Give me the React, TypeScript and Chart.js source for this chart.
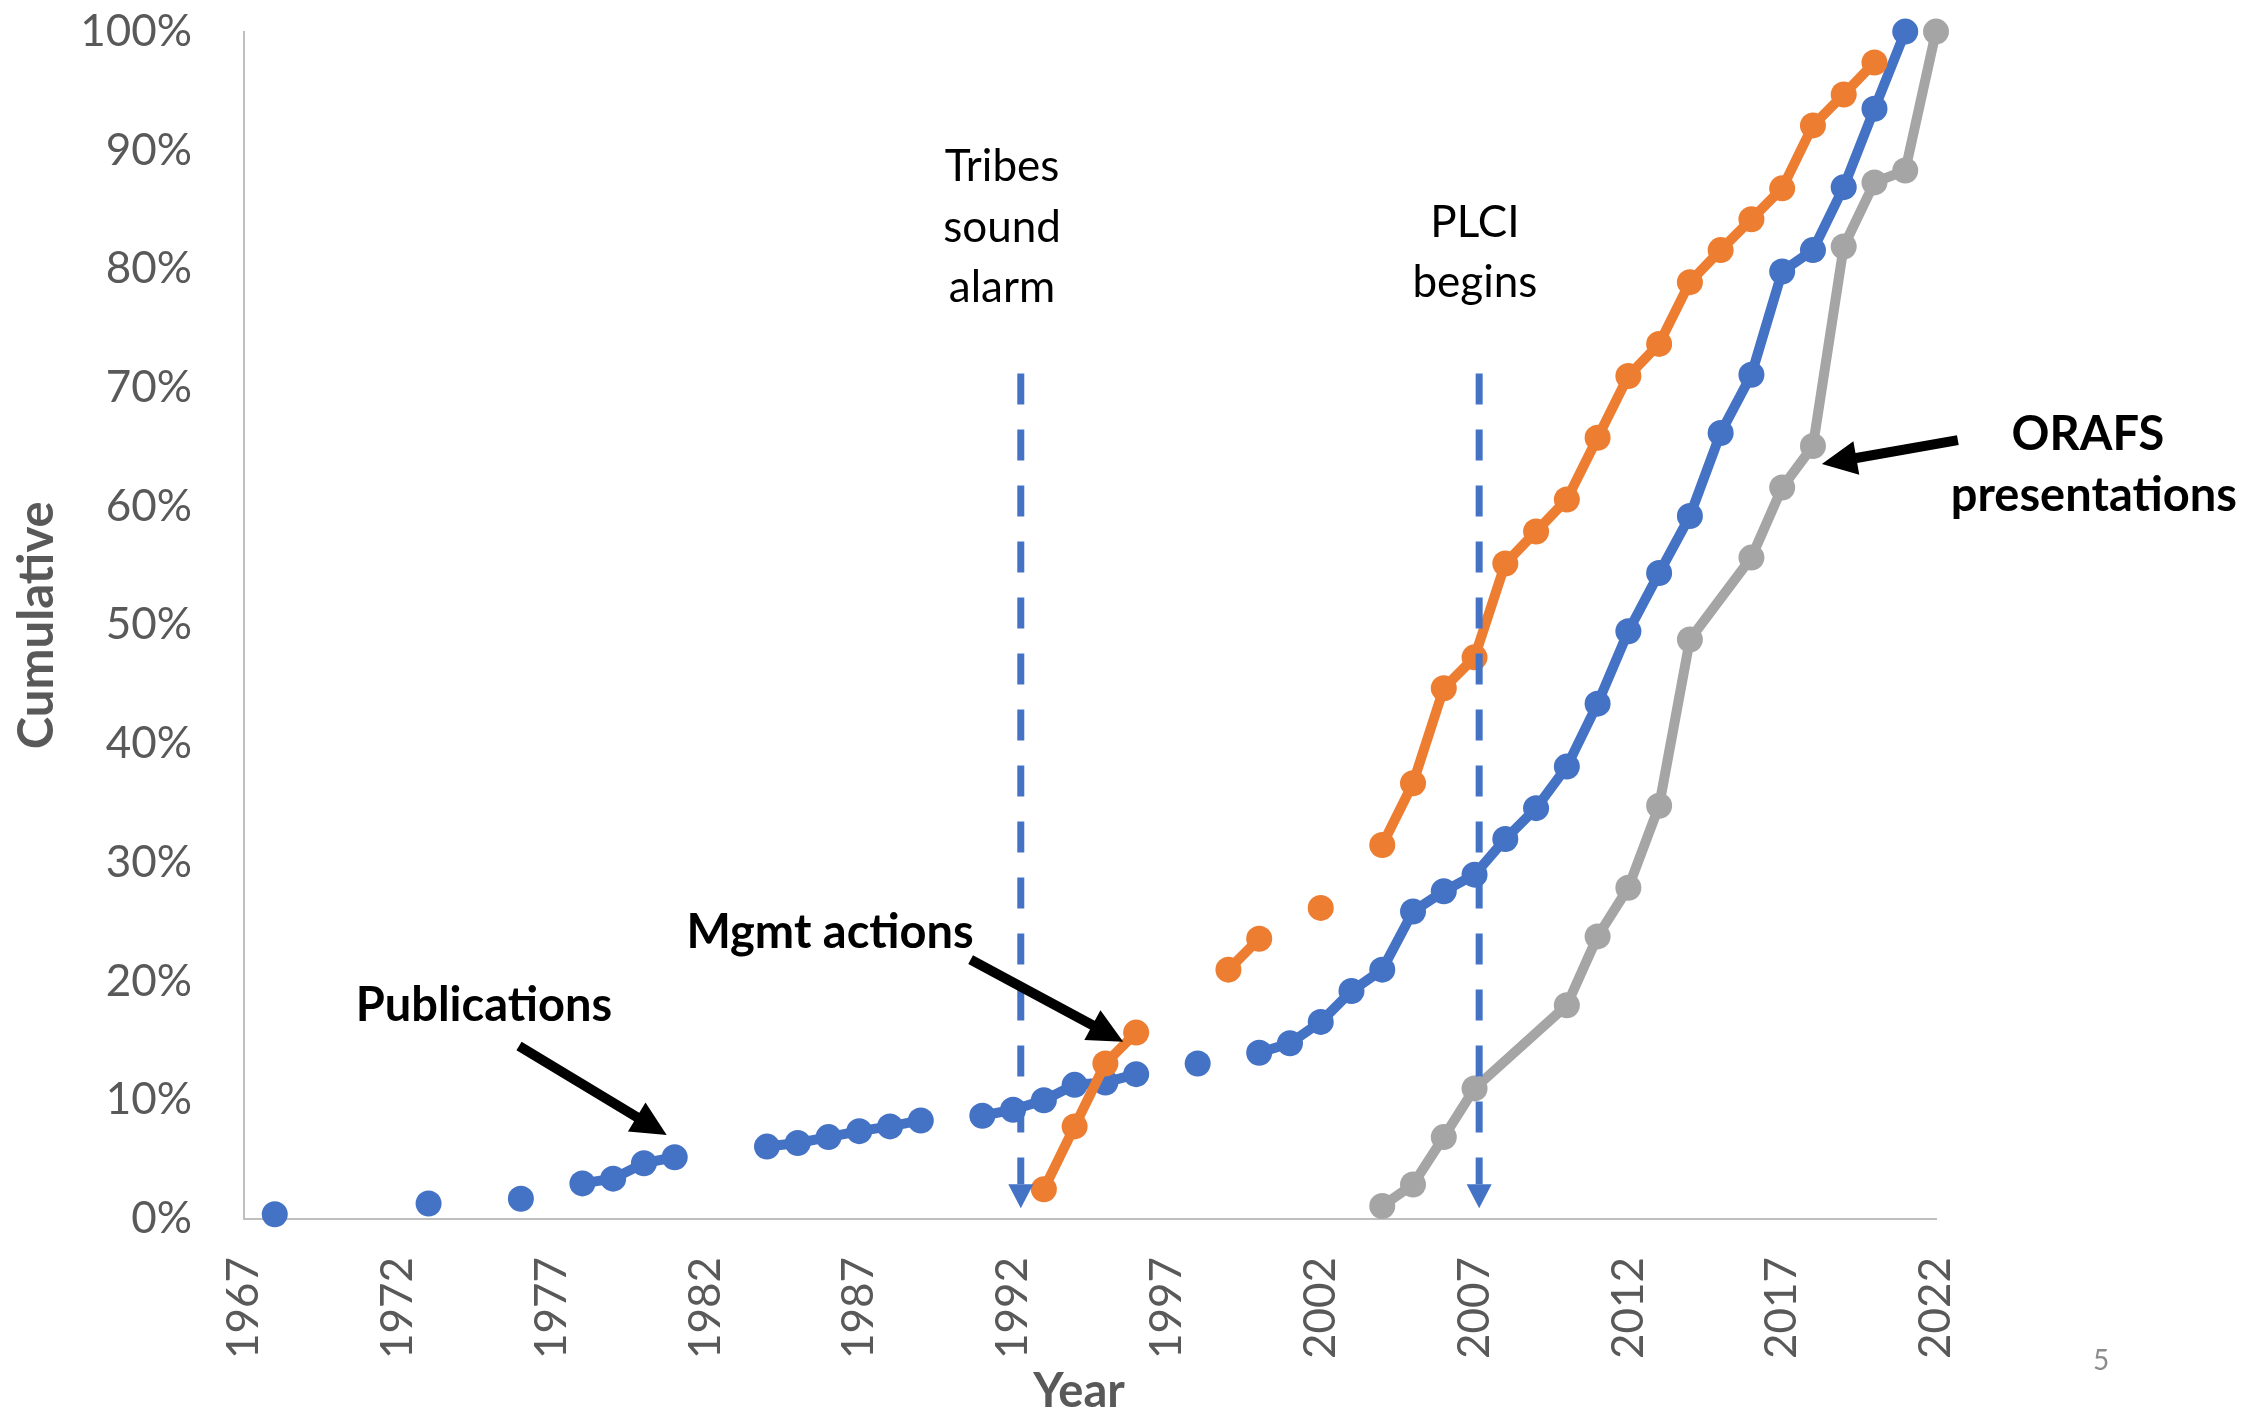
import React, { useEffect, useRef } from 'react';
import { Chart, registerables } from 'chart.js';

Chart.register(...registerables);

// ---------- data ----------
const years = [
  1967, 1968, 1969, 1970, 1971, 1972, 1973, 1974, 1975, 1976,
  1977, 1978, 1979, 1980, 1981, 1982, 1983, 1984, 1985, 1986,
  1987, 1988, 1989, 1990, 1991, 1992, 1993, 1994, 1995, 1996,
  1997, 1998, 1999, 2000, 2001, 2002, 2003, 2004, 2005, 2006,
  2007, 2008, 2009, 2010, 2011, 2012, 2013, 2014, 2015, 2016,
  2017, 2018, 2019, 2020, 2021, 2022,
];

// cumulative %, null = no value that year
const publications = [
  null, 0.4, null, null, null, null, 1.3, null, null, 1.7,
  null, 3.0, 3.4, 4.7, 5.2, null, null, 6.1, 6.4, 6.9,
  7.4, 7.8, 8.3, null, 8.7, 9.2, 10.0, 11.3, 11.5, 12.2,
  null, 13.1, null, 14.0, 14.8, 16.6, 19.2, 21.0, 25.9, 27.6,
  29.0, 32.0, 34.6, 38.1, 43.4, 49.5, 54.4, 59.2, 66.2, 71.1,
  79.8, 81.6, 86.9, 93.5, 100, null,
];

const mgmtActions = [
  null, null, null, null, null, null, null, null, null, null,
  null, null, null, null, null, null, null, null, null, null,
  null, null, null, null, null, null, 2.5, 7.8, 13.1, 15.7,
  null, null, 21.0, 23.6, null, 26.2, null, 31.5, 36.7, 44.7,
  47.3, 55.2, 57.9, 60.6, 65.8, 71.0, 73.7, 78.9, 81.6, 84.2,
  86.8, 92.1, 94.7, 97.4, null, null,
];

const orafsPresentations = [
  null, null, null, null, null, null, null, null, null, null,
  null, null, null, null, null, null, null, null, null, null,
  null, null, null, null, null, null, null, null, null, null,
  null, null, null, null, null, null, null, 1.1, 2.9, 6.9,
  11.0, null, null, 18.0, 23.8, 27.9, 34.8, 48.8, null, 55.7,
  61.6, 65.1, 81.9, 87.3, 88.3, 100,
];

const xTickYears = [1967, 1972, 1977, 1982, 1987, 1992, 1997, 2002, 2007, 2012, 2017, 2022];
const yTickValues = [0, 10, 20, 30, 40, 50, 60, 70, 80, 90, 100];

// event markers (dashed arrows) and their labels, in data units
const eventYears = [1992.25, 2007.15];
const eventLabels = [
  ['Tribes', 'sound', 'alarm'],
  ['PLCI', 'begins'],
];
const eventLabelYears = [1991.64, 2007.01];
const eventLabelBaselines = [
  [87.42, 82.32, 77.23],
  [82.7, 77.65],
];
const eventLineTop = 71.2;
const eventLineTip = 0.9;

// series callouts with black arrows, in data units
const calloutTexts = [['Publications'], ['Mgmt actions'], ['ORAFS', 'presentations']];
const calloutYears = [[1974.8], [1986.05], [2026.94, 2027.13]];
const calloutBaselines = [[16.7], [22.82], [64.76, 59.63]];
const calloutFrom = [[1975.94, 14.57], [1990.62, 21.84], [2022.71, 65.6]];
const calloutTo = [[1980.74, 7.07], [1995.58, 14.93], [2018.29, 63.58]];

// ---------- styles ----------
const BLUE = '#4472C4';
const ORANGE = '#ED7D31';
const GRAY = '#A5A5A5';
const AXIS_TEXT = '#595959';
const FONT = 'Lato';
const W = 2254;
const H = 1411;

function blockArrow(ctx: CanvasRenderingContext2D, x0: number, y0: number, x1: number, y1: number,
  shaftW: number, headLen: number, headW: number) {
  const dx = x1 - x0;
  const dy = y1 - y0;
  const len = Math.hypot(dx, dy);
  const ux = dx / len;
  const uy = dy / len;
  const nx = -uy;
  const ny = ux;
  const bx = x1 - ux * headLen;
  const by = y1 - uy * headLen;
  ctx.beginPath();
  ctx.moveTo(x0 + nx * shaftW / 2, y0 + ny * shaftW / 2);
  ctx.lineTo(bx + nx * shaftW / 2, by + ny * shaftW / 2);
  ctx.lineTo(bx + nx * headW / 2, by + ny * headW / 2);
  ctx.lineTo(x1, y1);
  ctx.lineTo(bx - nx * headW / 2, by - ny * headW / 2);
  ctx.lineTo(bx - nx * shaftW / 2, by - ny * shaftW / 2);
  ctx.lineTo(x0 - nx * shaftW / 2, y0 - ny * shaftW / 2);
  ctx.closePath();
  ctx.fill();
}

const annotationPlugin = {
  id: 'annotations',
  afterDatasetsDraw(chart: any) {
    const { ctx, scales, chartArea } = chart;
    const xs = scales.x;
    const ys = scales.y;
    const px = (v: number) => xs.getPixelForValue(v);
    const py = (v: number) => ys.getPixelForValue(v);
    ctx.save();

    // dashed event arrows
    eventYears.forEach((yr) => {
      const X = px(yr);
      const top = py(eventLineTop);
      const tip = py(eventLineTip);
      const headLen = 24;
      const headW = 25;
      ctx.strokeStyle = BLUE;
      ctx.lineWidth = 7;
      ctx.lineCap = 'butt';
      ctx.setLineDash([31, 25]);
      ctx.beginPath();
      ctx.moveTo(X, top);
      ctx.lineTo(X, tip - headLen);
      ctx.stroke();
      ctx.setLineDash([]);
      ctx.fillStyle = BLUE;
      ctx.beginPath();
      ctx.moveTo(X - headW / 2, tip - headLen);
      ctx.lineTo(X + headW / 2, tip - headLen);
      ctx.lineTo(X, tip);
      ctx.closePath();
      ctx.fill();
    });

    // event labels
    ctx.fillStyle = '#000000';
    ctx.textAlign = 'center';
    ctx.textBaseline = 'alphabetic';
    ctx.font = `44px ${FONT}`;
    eventLabels.forEach((lines, i) => {
      lines.forEach((t, j) => {
        ctx.fillText(t, px(eventLabelYears[i]), py(eventLabelBaselines[i][j]));
      });
    });

    // callouts
    ctx.font = `bold 47px ${FONT}`;
    calloutTexts.forEach((lines, i) => {
      lines.forEach((t, j) => {
        ctx.fillText(t, px(calloutYears[i][j]), py(calloutBaselines[i][j]));
      });
      blockArrow(ctx, px(calloutFrom[i][0]), py(calloutFrom[i][1]),
        px(calloutTo[i][0]), py(calloutTo[i][1]), 10, 35, 34);
    });

    // axis titles
    ctx.fillStyle = AXIS_TEXT;
    ctx.font = `bold 47px ${FONT}`;
    ctx.textAlign = 'center';
    ctx.textBaseline = 'alphabetic';
    ctx.fillText('Year', 1079, 1407);
    ctx.save();
    ctx.font = `bold 49px ${FONT}`;
    ctx.translate(53, (chartArea.top + chartArea.bottom) / 2);
    ctx.rotate(-Math.PI / 2);
    ctx.fillText('Cumulative', 0, 0);
    ctx.restore();

    // slide number
    ctx.fillStyle = '#8C8C8C';
    ctx.font = `28px ${FONT}`;
    ctx.textBaseline = 'middle';
    ctx.fillText('5', 2101, 1361);

    ctx.restore();
  },
};

function makeData(values: (number | null)[]) {
  return years.map((x, i) => ({ x, y: values[i] }));
}

export default function App() {
  const canvasRef = useRef<HTMLCanvasElement | null>(null);

  useEffect(() => {
    const canvas = canvasRef.current;
    if (!canvas) return;
    const common = {
      borderWidth: 10,
      pointRadius: 13,
      pointHoverRadius: 13,
      pointBorderWidth: 0,
      borderJoinStyle: 'round',
      borderCapStyle: 'round',
      tension: 0,
      clip: false,
    };
    const chart = new Chart(canvas, {
      type: 'line',
      data: {
        datasets: [
          {
            label: 'Mgmt actions',
            data: makeData(mgmtActions),
            borderColor: ORANGE,
            backgroundColor: ORANGE,
            pointBackgroundColor: ORANGE,
            spanGaps: false,
            ...common,
          },
          {
            label: 'Publications',
            data: makeData(publications),
            borderColor: BLUE,
            backgroundColor: BLUE,
            pointBackgroundColor: BLUE,
            spanGaps: false,
            ...common,
          },
          {
            label: 'ORAFS presentations',
            data: makeData(orafsPresentations),
            borderColor: GRAY,
            backgroundColor: GRAY,
            pointBackgroundColor: GRAY,
            spanGaps: true,
            ...common,
          },
        ] as any,
      },
      options: {
        animation: false,
        responsive: false,
        maintainAspectRatio: false,
        devicePixelRatio: 1,
        layout: { padding: { top: 31.6, right: 318, bottom: 0, left: 0 } },
        plugins: {
          legend: { display: false },
          tooltip: { enabled: false },
          title: { display: false },
        },
        scales: {
          x: {
            type: 'linear',
            min: 1967,
            max: 2022,
            grid: { display: false, drawTicks: false, tickLength: 0 },
            border: { display: true, color: '#BFBFBF', width: 2 },
            afterBuildTicks: (scale: any) => {
              scale.ticks = xTickYears.map((v) => ({ value: v }));
            },
            afterFit: (scale: any) => {
              scale.height = 192;
              scale.paddingLeft = 20;
              scale.paddingRight = 20;
            },
            ticks: {
              autoSkip: false,
              maxRotation: 90,
              minRotation: 90,
              padding: 38,
              color: AXIS_TEXT,
              font: { family: FONT, size: 44 },
              callback: (v: any) => String(v),
            },
          },
          y: {
            type: 'linear',
            min: 0,
            max: 100,
            grid: { display: false, drawTicks: false, tickLength: 0 },
            border: { display: true, color: '#BFBFBF', width: 2 },
            afterBuildTicks: (scale: any) => {
              scale.ticks = yTickValues.map((v) => ({ value: v }));
            },
            afterFit: (scale: any) => {
              scale.width = 244;
              scale.paddingTop = 20;
              scale.paddingBottom = 20;
            },
            ticks: {
              padding: 52,
              color: AXIS_TEXT,
              font: { family: FONT, size: 44 },
              callback: (v: any) => `${v}%`,
            },
          },
        },
      } as any,
      plugins: [annotationPlugin],
    });
    return () => chart.destroy();
  }, []);

  return (
    <div style={{ position: 'absolute', left: 0, top: 0, width: W, height: H, background: '#ffffff' }}>
      <canvas ref={canvasRef} width={W} height={H} style={{ display: 'block', width: W, height: H }} />
    </div>
  );
}
